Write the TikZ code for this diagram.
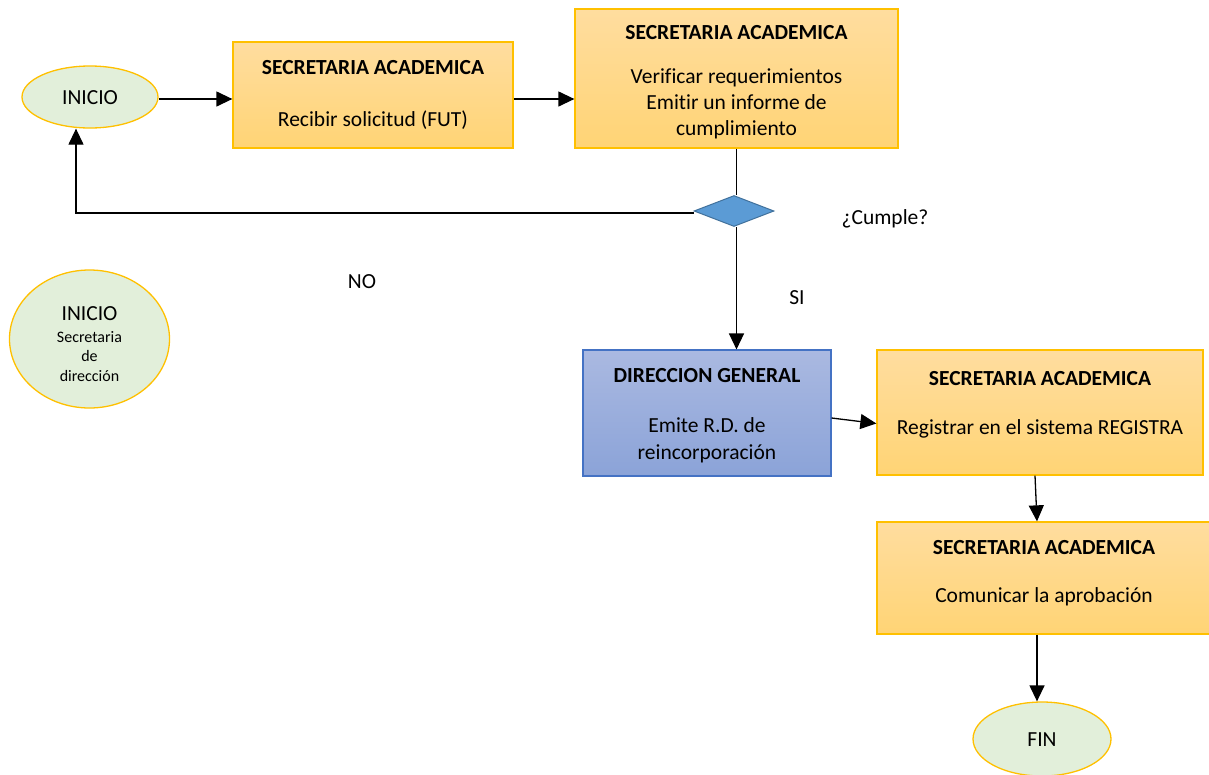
\documentclass[tikz,border=0pt]{standalone}
\usepackage{fontspec}
\setmainfont{Carlito}[Ligatures={NoCommon}]
\usetikzlibrary{arrows.meta,shapes.geometric,calc}

\definecolor{boxedge}{HTML}{FFC000}
\definecolor{boxtop}{HTML}{FFDD9F}
\definecolor{boxbot}{HTML}{FFD475}
\definecolor{dgedge}{HTML}{4472C4}
\definecolor{dgtop}{HTML}{AAB9E1}
\definecolor{dgbot}{HTML}{8BA3D8}
\definecolor{termfill}{HTML}{E2EFDA}
\definecolor{decfill}{HTML}{5B9BD5}
\definecolor{decedge}{HTML}{41719C}

\tikzset{
  obox/.style={rectangle, draw=boxedge, line width=1.3pt, top color=boxtop, bottom color=boxbot, inner sep=0pt},
  bbox/.style={rectangle, draw=dgedge, line width=1.1pt, top color=dgtop, bottom color=dgbot, inner sep=0pt},
  term/.style={ellipse, draw=boxedge, line width=1.3pt, fill=termfill, inner sep=0pt},
  decision/.style={diamond, draw=decedge, line width=1pt, fill=decfill, inner sep=0pt, aspect=2.6},
  ttl/.style={anchor=base, inner sep=0pt, font=\fontsize{21.5}{26}\selectfont\bfseries},
  txt/.style={anchor=base, inner sep=0pt, align=center, font=\fontsize{21.5}{26}\selectfont},
  small/.style={anchor=base, inner sep=0pt, align=center, font=\fontsize{16}{19.5}\selectfont},
  flow/.style={line width=1.3pt, -{Triangle[length=16pt,width=15pt]}},
  plain/.style={line width=1.3pt}
}

\begin{document}
\begin{tikzpicture}[x=1pt,y=-1pt]
\useasboundingbox (0,0) rectangle (1209,774);

% terminals (multi-line texts are placed by the baseline of their last line)
\node[term, minimum width=136pt, minimum height=62pt] (ini) at (90,97) {};
\node[txt] (iniT) at (90,104) {INICIO};

\node[term, minimum width=160pt, minimum height=138pt] (sec) at (89.5,339) {};
\node[txt] (secT) at (89.5,320) {INICIO};
\node[small] (secS) at (89.5,381) {Secretaria\\de\\dirección};

\node[term, minimum width=138pt, minimum height=74pt] (fin) at (1042,739) {};
\node[txt] (finT) at (1042,746) {FIN};

% process boxes
\node[obox, minimum width=280pt, minimum height=106pt] (b1) at (373,95) {};
\node[ttl] (b1T) at (373,74) {SECRETARIA ACADEMICA};
\node[txt] (b1X) at (373,126) {Recibir solicitud (FUT)};

\node[obox, minimum width=323pt, minimum height=139pt] (b2) at (736.5,78.5) {};
\node[ttl] (b2T) at (736.5,39) {SECRETARIA ACADEMICA};
\node[txt] (b2X) at (736.5,135) {Verificar requerimientos\\Emitir un informe de\\cumplimiento};

\node[bbox, minimum width=248pt, minimum height=126pt] (dg) at (707,413) {};
\node[ttl] (dgT) at (707,382) {DIRECCION GENERAL};
\node[txt, font=\fontsize{21.5}{27}\selectfont] (dgX) at (707,459) {Emite R.D. de\\reincorporación};

\node[obox, minimum width=326pt, minimum height=125pt] (br) at (1040,412.5) {};
\node[ttl] (brT) at (1040,385) {SECRETARIA ACADEMICA};
\node[txt] (brX) at (1040,434) {Registrar en el sistema REGISTRA};

\node[obox, minimum width=334pt, minimum height=112pt] (bc) at (1044,578) {};
\node[ttl] (bcT) at (1044,554) {SECRETARIA ACADEMICA};
\node[txt] (bcX) at (1044,602) {Comunicar la aprobación};

% decision
\node[decision, minimum width=80pt, minimum height=31pt] (dec) at (734,211) {};
\node[txt] (cumple) at (885,224) {¿Cumple?};
\node[txt] (no) at (362,288) {NO};
\node[txt] (si) at (797,304) {SI};

% connectors
\coordinate (loop) at (76,213);
\draw[flow] (ini.east |- 0,99) -- (b1.west |- 0,99);
\draw[flow] (b1.east |- 0,99) -- (b2.west |- 0,99);
\draw[plain] (b2.south) -- (b2.south |- dec.north);
\draw[flow] (dec.west |- loop) -- (loop) -- (ini.south -| loop);
\draw[flow] (dec.south -| b2.south) -- (dg.north -| b2.south);
\draw[flow] ($(dg.east)+(0,5)$) -- ($(br.west)+(0,11)$);
\draw[flow] ($(br.south)+(-5,0)$) -- ($(bc.north)+(-7,0)$);
\draw[flow] ($(bc.south)+(-7,0)$) -- ($(fin.north)+(-5,0)$);
\end{tikzpicture}
\end{document}
